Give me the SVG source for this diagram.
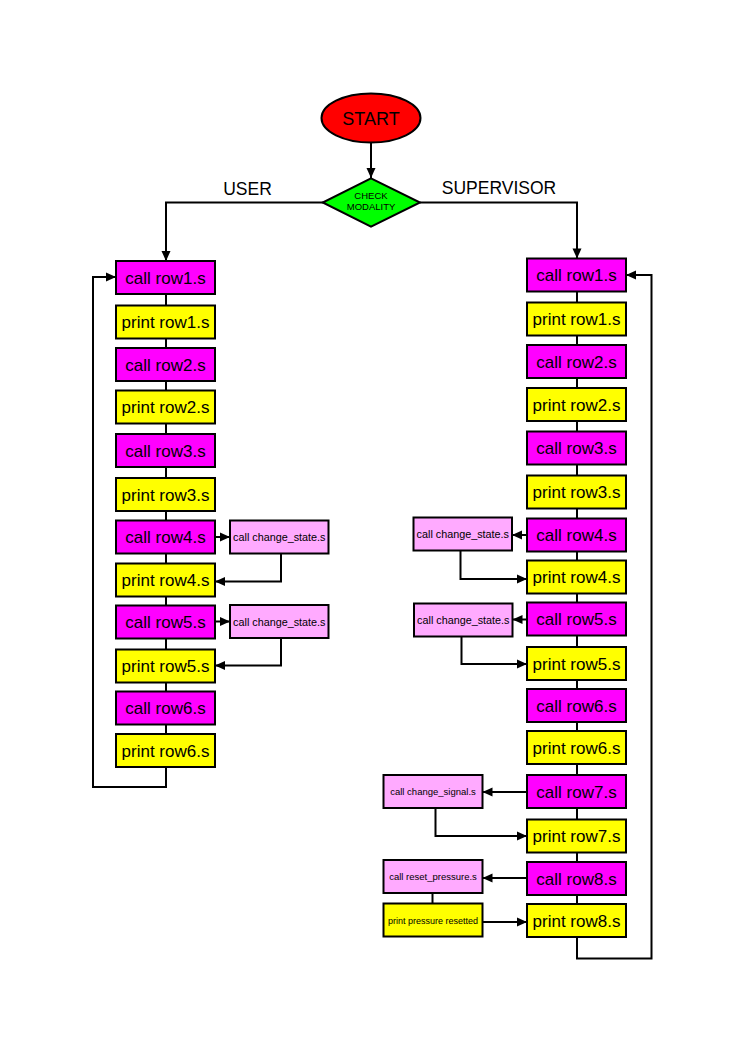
<svg xmlns="http://www.w3.org/2000/svg" width="744" height="1052" viewBox="0 0 744 1052">
<style>
.b{stroke:#000;stroke-width:2}
.c{fill:#FF00FF}
.p{fill:#FFFF00}
.s{fill:#FFAAFF}
.t{font-family:"Liberation Sans",Arial,sans-serif;font-size:17px;text-anchor:middle;fill:#000}
.ts{font-family:"Liberation Sans",Arial,sans-serif;font-size:10.8px;text-anchor:middle;fill:#000}
.tx{font-family:"Liberation Sans",Arial,sans-serif;font-size:9.5px;text-anchor:middle;fill:#000}
.lbl{font-family:"Liberation Sans",Arial,sans-serif;font-size:17.5px;text-anchor:middle;fill:#000}
.ln{fill:none;stroke:#000;stroke-width:2}
.a{marker-end:url(#ah)}
</style>
<defs>
<marker id="ah" markerUnits="userSpaceOnUse" markerWidth="12" markerHeight="12" viewBox="0 0 12 12" refX="11" refY="6" orient="auto">
<path d="M1,1.5 L11,6 L1,10.5 Z" fill="#000"/>
</marker>
</defs>
<rect width="744" height="1052" fill="#fff"/>

<g id="connectors">
<line class="ln a" x1="371" y1="142.5" x2="371" y2="178"/>
<polyline class="ln a" points="323,202.5 166,202.5 166,261"/>
<polyline class="ln a" points="420,202.5 577,202.5 577,258.5"/>
<line class="ln" x1="166" y1="294" x2="166" y2="305.5"/>
<line class="ln" x1="166" y1="338.5" x2="166" y2="348"/>
<line class="ln" x1="166" y1="381" x2="166" y2="390.5"/>
<line class="ln" x1="166" y1="423.5" x2="166" y2="434"/>
<line class="ln" x1="166" y1="467" x2="166" y2="478"/>
<line class="ln" x1="166" y1="511" x2="166" y2="520.5"/>
<line class="ln" x1="166" y1="553.5" x2="166" y2="563.5"/>
<line class="ln" x1="166" y1="596.5" x2="166" y2="605.5"/>
<line class="ln" x1="166" y1="638.5" x2="166" y2="649.5"/>
<line class="ln" x1="166" y1="682.5" x2="166" y2="691.5"/>
<line class="ln" x1="166" y1="724.5" x2="166" y2="734"/>
<polyline class="ln a" points="166,767 166,787 93,787 93,277 116,277"/>
<line class="ln a" x1="215" y1="537" x2="230" y2="537"/>
<polyline class="ln a" points="281,553.5 281,581.5 215,581.5"/>
<line class="ln a" x1="215" y1="621.5" x2="230" y2="621.5"/>
<polyline class="ln a" points="281,638 281,665.5 215,665.5"/>
<line class="ln" x1="577" y1="291.5" x2="577" y2="302.5"/>
<line class="ln" x1="577" y1="335.5" x2="577" y2="345"/>
<line class="ln" x1="577" y1="378" x2="577" y2="388"/>
<line class="ln" x1="577" y1="421" x2="577" y2="431.5"/>
<line class="ln" x1="577" y1="464.5" x2="577" y2="475.5"/>
<line class="ln" x1="577" y1="508.5" x2="577" y2="518.5"/>
<line class="ln" x1="577" y1="551.5" x2="577" y2="560.5"/>
<line class="ln" x1="577" y1="593.5" x2="577" y2="602.5"/>
<line class="ln" x1="577" y1="635.5" x2="577" y2="647"/>
<line class="ln" x1="577" y1="680" x2="577" y2="689"/>
<line class="ln" x1="577" y1="722" x2="577" y2="731"/>
<line class="ln" x1="577" y1="764" x2="577" y2="775"/>
<line class="ln" x1="577" y1="808" x2="577" y2="819.5"/>
<line class="ln" x1="577" y1="852.5" x2="577" y2="862"/>
<line class="ln" x1="577" y1="895" x2="577" y2="904"/>
<polyline class="ln a" points="577,937 577,958.5 651.5,958.5 651.5,275 626,275"/>
<line class="ln a" x1="527" y1="535" x2="512" y2="535"/>
<polyline class="ln a" points="460.5,550.5 460.5,579 527,579"/>
<line class="ln a" x1="527" y1="619.5" x2="512.5" y2="619.5"/>
<polyline class="ln a" points="461.5,636.5 461.5,664 527,664"/>
<line class="ln a" x1="527" y1="792" x2="482.5" y2="792"/>
<polyline class="ln a" points="435.5,808 435.5,836 527,836"/>
<line class="ln a" x1="527" y1="878" x2="482.5" y2="878"/>
<line class="ln" x1="432.5" y1="893" x2="432.5" y2="903.5"/>
<line class="ln a" x1="482.5" y1="922" x2="527" y2="922"/>
</g>

<text class="lbl" x="247.5" y="195">USER</text>
<text class="lbl" x="499" y="194">SUPERVISOR</text>

<g id="start">
<ellipse class="b" cx="371" cy="118" rx="49.5" ry="24.5" fill="#FF0000"/>
<text class="t" x="371" y="124.5" style="font-size:18px">START</text>
</g>
<g id="check">
<polygon class="b" points="371,178.3 420,202.5 371,226.7 322.7,202.5" fill="#00FF00"/>
<text class="tx" x="371" y="198.5">CHECK</text>
<text class="tx" x="371" y="210">MODALITY</text>
</g>

<g id="u_call1"><rect class="b c" x="116" y="261" width="99" height="33"/><text class="t" x="165.5" y="283.5">call row1.s</text></g>
<g id="u_print1"><rect class="b p" x="116" y="305.5" width="99" height="33"/><text class="t" x="165.5" y="328">print row1.s</text></g>
<g id="u_call2"><rect class="b c" x="116" y="348" width="99" height="33"/><text class="t" x="165.5" y="370.5">call row2.s</text></g>
<g id="u_print2"><rect class="b p" x="116" y="390.5" width="99" height="33"/><text class="t" x="165.5" y="413">print row2.s</text></g>
<g id="u_call3"><rect class="b c" x="116" y="434" width="99" height="33"/><text class="t" x="165.5" y="456.5">call row3.s</text></g>
<g id="u_print3"><rect class="b p" x="116" y="478" width="99" height="33"/><text class="t" x="165.5" y="500.5">print row3.s</text></g>
<g id="u_call4"><rect class="b c" x="116" y="520.5" width="99" height="33"/><text class="t" x="165.5" y="543">call row4.s</text></g>
<g id="u_print4"><rect class="b p" x="116" y="563.5" width="99" height="33"/><text class="t" x="165.5" y="586">print row4.s</text></g>
<g id="u_call5"><rect class="b c" x="116" y="605.5" width="99" height="33"/><text class="t" x="165.5" y="628">call row5.s</text></g>
<g id="u_print5"><rect class="b p" x="116" y="649.5" width="99" height="33"/><text class="t" x="165.5" y="672">print row5.s</text></g>
<g id="u_call6"><rect class="b c" x="116" y="691.5" width="99" height="33"/><text class="t" x="165.5" y="714">call row6.s</text></g>
<g id="u_print6"><rect class="b p" x="116" y="734" width="99" height="33"/><text class="t" x="165.5" y="756.5">print row6.s</text></g>
<g id="u_cs4"><rect class="b s" x="230" y="520.5" width="98.5" height="33"/><text class="ts" x="279.3" y="541">call change_state.s</text></g>
<g id="u_cs5"><rect class="b s" x="230" y="605" width="98.5" height="33"/><text class="ts" x="279.3" y="625.5">call change_state.s</text></g>

<g id="s_call1"><rect class="b c" x="527" y="258.5" width="99" height="33"/><text class="t" x="576.5" y="281">call row1.s</text></g>
<g id="s_print1"><rect class="b p" x="527" y="302.5" width="99" height="33"/><text class="t" x="576.5" y="325">print row1.s</text></g>
<g id="s_call2"><rect class="b c" x="527" y="345" width="99" height="33"/><text class="t" x="576.5" y="367.5">call row2.s</text></g>
<g id="s_print2"><rect class="b p" x="527" y="388" width="99" height="33"/><text class="t" x="576.5" y="410.5">print row2.s</text></g>
<g id="s_call3"><rect class="b c" x="527" y="431.5" width="99" height="33"/><text class="t" x="576.5" y="454">call row3.s</text></g>
<g id="s_print3"><rect class="b p" x="527" y="475.5" width="99" height="33"/><text class="t" x="576.5" y="498">print row3.s</text></g>
<g id="s_call4"><rect class="b c" x="527" y="518.5" width="99" height="33"/><text class="t" x="576.5" y="541">call row4.s</text></g>
<g id="s_print4"><rect class="b p" x="527" y="560.5" width="99" height="33"/><text class="t" x="576.5" y="583">print row4.s</text></g>
<g id="s_call5"><rect class="b c" x="527" y="602.5" width="99" height="33"/><text class="t" x="576.5" y="625">call row5.s</text></g>
<g id="s_print5"><rect class="b p" x="527" y="647" width="99" height="33"/><text class="t" x="576.5" y="669.5">print row5.s</text></g>
<g id="s_call6"><rect class="b c" x="527" y="689" width="99" height="33"/><text class="t" x="576.5" y="711.5">call row6.s</text></g>
<g id="s_print6"><rect class="b p" x="527" y="731" width="99" height="33"/><text class="t" x="576.5" y="753.5">print row6.s</text></g>
<g id="s_call7"><rect class="b c" x="527" y="775" width="99" height="33"/><text class="t" x="576.5" y="797.5">call row7.s</text></g>
<g id="s_print7"><rect class="b p" x="527" y="819.5" width="99" height="33"/><text class="t" x="576.5" y="842">print row7.s</text></g>
<g id="s_call8"><rect class="b c" x="527" y="862" width="99" height="33"/><text class="t" x="576.5" y="884.5">call row8.s</text></g>
<g id="s_print8"><rect class="b p" x="527" y="904" width="99" height="33"/><text class="t" x="576.5" y="926.5">print row8.s</text></g>
<g id="s_cs4"><rect class="b s" x="413.5" y="517.5" width="98.5" height="33"/><text class="ts" x="462.8" y="538">call change_state.s</text></g>
<g id="s_cs5"><rect class="b s" x="414" y="603.5" width="98.5" height="33"/><text class="ts" x="463.3" y="624">call change_state.s</text></g>
<g id="s_sig"><rect class="b s" x="383.5" y="775" width="99" height="33"/><text class="tx" x="433" y="795">call change_signal.s</text></g>
<g id="s_reset"><rect class="b s" x="383.5" y="860" width="99" height="33"/><text class="tx" x="433" y="880">call reset_pressure.s</text></g>
<g id="s_presset"><rect class="b p" x="383.5" y="903.5" width="99" height="33"/><text class="tx" x="433" y="923.5" style="font-size:9px">print pressure resetted</text></g>
</svg>
